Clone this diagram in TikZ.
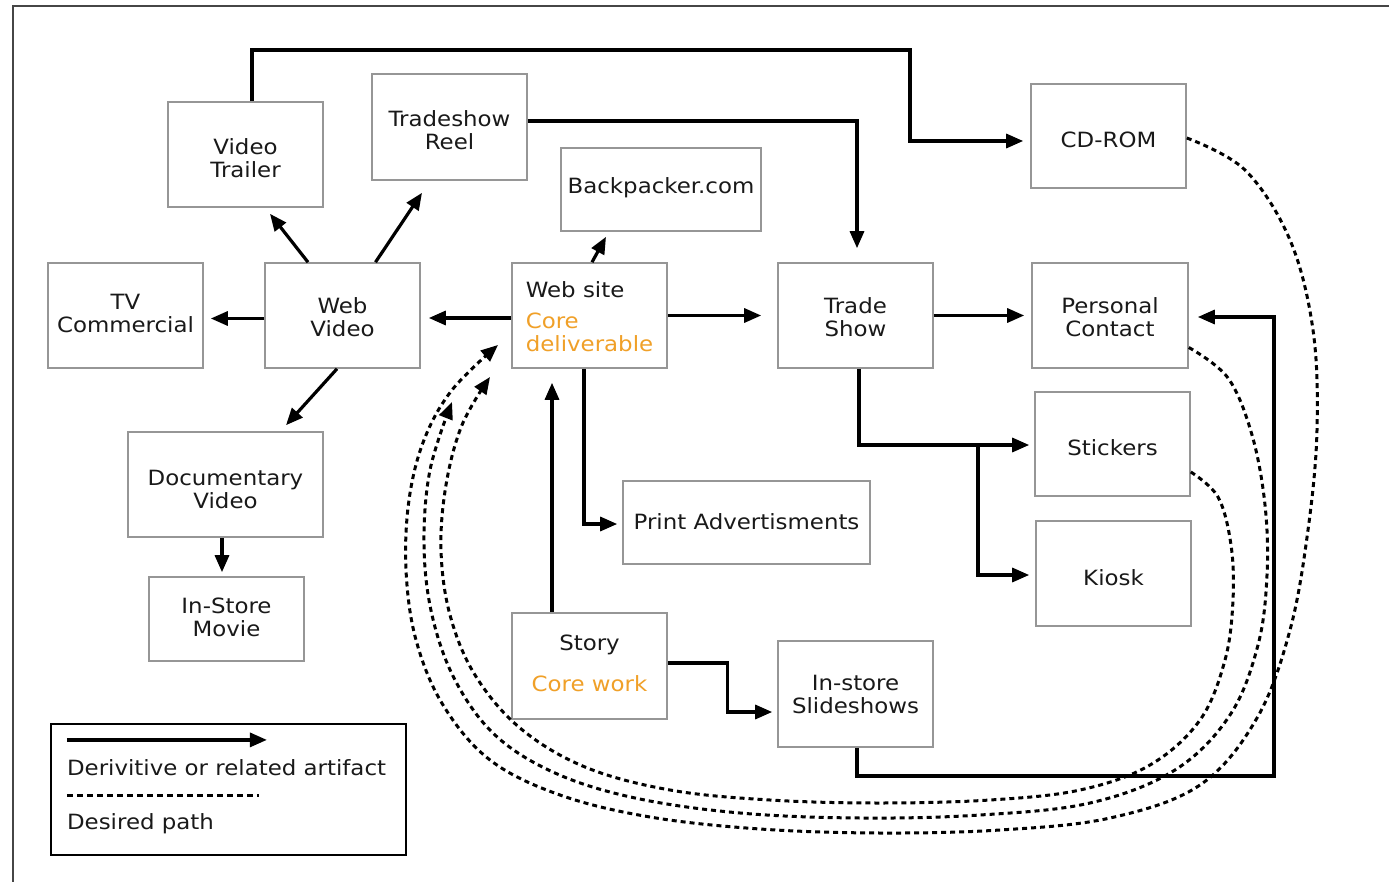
\documentclass[tikz,border=0pt]{standalone}
\usepackage{fontspec}
\setmainfont{DejaVu Sans}[FakeStretch=1.09]
\usetikzlibrary{arrows.meta,calc}
\definecolor{boxgray}{RGB}{150,150,150}
\definecolor{coreorange}{RGB}{240,160,40}
\definecolor{framegray}{RGB}{70,70,70}
\begin{document}
\begin{tikzpicture}[x=1pt,y=-1pt,
  box/.style={draw=boxgray, line width=1.6pt, fill=white, inner sep=0pt},
  txt/.style={inner sep=0pt, align=center, font=\fontsize{21}{23}\selectfont, text=black!90},
  conn/.style={line width=3.2pt, -{Triangle[length=17pt,width=14pt]}},
  dsh/.style={line width=3pt, dash pattern=on 5pt off 4pt, -{Triangle[length=17pt,width=14pt]}},
  lgtext/.style={anchor=west, inner sep=0pt, font=\fontsize{21}{23}\selectfont, text=black!90},
]
\useasboundingbox (0,0) rectangle (1389,882);
\draw[framegray, line width=2pt] (13,882) -- (13,6) -- (1389,6);

% boxes
\node[box, minimum width=155pt, minimum height=105pt] (vt) at (245.5,154.5) {};
\node[txt] (vt-t) at ([yshift=-3.5pt]vt.center) {Video\\Trailer};
\node[box, minimum width=155pt, minimum height=106pt] (tr) at (449.5,127) {};
\node[txt] (tr-t) at ([yshift=-3.5pt]tr.center) {Tradeshow\\Reel};
\node[box, minimum width=200pt, minimum height=83pt] (bp) at (661,189.5) {};
\node[txt] (bp-t) at ([yshift=2pt]bp.center) {Backpacker.com};
\node[box, minimum width=155pt, minimum height=104pt] (cd) at (1108.5,136) {};
\node[txt] (cd-t) at ([yshift=-3.5pt]cd.center) {CD-ROM};
\node[box, minimum width=155pt, minimum height=105pt] (tv) at (125.5,315.5) {};
\node[txt] (tv-t) at ([yshift=2pt]tv.center) {TV\\Commercial};
\node[box, minimum width=155pt, minimum height=105pt] (wv) at (342.5,315.5) {};
\node[txt] (wv-t) at ([yshift=-2pt]wv.center) {Web\\Video};
\node[box, minimum width=155pt, minimum height=105pt] (ws) at (589.5,315.5) {};
\node[txt, align=left] (ws-t) at ([yshift=-1pt]ws.center)
  {Web site\\[8pt]\color{coreorange}Core\\\color{coreorange}deliverable};
\node[box, minimum width=155pt, minimum height=105pt] (ts) at (855.5,315.5) {};
\node[txt] (ts-t) at ([yshift=-2pt]ts.center) {Trade\\Show};
\node[box, minimum width=156pt, minimum height=105pt] (pc) at (1110,315.5) {};
\node[txt] (pc-t) at ([yshift=-2pt]pc.center) {Personal\\Contact};
\node[box, minimum width=155pt, minimum height=104pt] (st) at (1112.5,444) {};
\node[txt] (st-t) at ([yshift=-3.5pt]st.center) {Stickers};
\node[box, minimum width=155pt, minimum height=105pt] (ki) at (1113.5,573.5) {};
\node[txt] (ki-t) at ([yshift=-4pt]ki.center) {Kiosk};
\node[box, minimum width=195pt, minimum height=105pt] (dv) at (225.5,484.5) {};
\node[txt] (dv-t) at ([yshift=-4.5pt]dv.center) {Documentary\\Video};
\node[box, minimum width=155pt, minimum height=84pt] (im) at (226.5,619) {};
\node[txt] (im-t) at ([yshift=2pt]im.center) {In-Store\\Movie};
\node[box, minimum width=247pt, minimum height=83pt] (pa) at (746.5,522.5) {};
\node[txt] (pa-t) at ([yshift=1pt]pa.center) {Print Advertisments};
\node[box, minimum width=155pt, minimum height=106pt] (sy) at (589.5,666) {};
\node[txt] (sy-t) at ([yshift=3pt]sy.center) {Story\\[18pt]\color{coreorange}Core work};
\node[box, minimum width=155pt, minimum height=106pt] (ss) at (855.5,694) {};
\node[txt] (ss-t) at (ss.center) {In-store\\Slideshows};

% solid connectors
\draw[conn] ([xshift=6.5pt]vt.north) |- (910,50) |- ([xshift=-7pt,yshift=-5pt]cd.west);
\draw[conn] ([yshift=6pt]tr.east) -| ([xshift=1.5pt,yshift=14pt]ts.north);
\draw[conn] ([xshift=-34.5pt]wv.north) -- ($(vt.south)+(24.5,6)$);
\draw[conn] ([xshift=33pt]wv.north) -- ($(tr.south)+(-27.5,12)$);
\draw[conn] ([yshift=-3pt]wv.west) -- ([xshift=7pt,yshift=-3pt]tv.east);
\draw[conn] ([xshift=-5.5pt]wv.south) -- ($(dv.north)+(60.5,-6)$);
\draw[conn] ([yshift=-2.5pt]ws.west) -- ([xshift=8pt,yshift=-2.5pt]wv.east);
\draw[conn] ([xshift=2.5pt]ws.north) -- ($(bp.south)+(-55,5)$);
\draw[conn] (ws.east) -- ([xshift=-16pt]ts.west);
\draw[conn] ([xshift=-5.5pt]ws.south) |- ([xshift=-5pt,yshift=-1.5pt]pa.west);
\draw[conn] ([xshift=-37.5pt]sy.north) -- ([xshift=-37.5pt,yshift=-14pt]ws.south);
\draw[conn] ([yshift=3pt]sy.east) -- ++(60,0) |- ([xshift=-5pt,yshift=-18pt]ss.west);
\draw[conn] (ts.east) -- ([xshift=-7pt]pc.west);
\draw[conn] ([xshift=3.5pt]ts.south) |- ([xshift=-5pt,yshift=-1pt]st.west);
\coordinate (br) at (978,445);
\draw[conn] (br) |- ([xshift=-6pt,yshift=-1.5pt]ki.west);
\draw[conn] ([xshift=-3.5pt]dv.south) -- ([xshift=-4.5pt,yshift=4pt]im.north);
\draw[conn] ([xshift=1.5pt]ss.south) |- (1274,776) |- ([xshift=9pt,yshift=-1.5pt]pc.east);

% dashed desired paths
\coordinate (a0) at ([yshift=-2pt]cd.east);
\coordinate (a1) at (498,345);
\draw[dsh] plot[smooth, tension=0.6] coordinates {(a0) (1245,170) (1290,240) (1313,330) (1317,430)
  (1308,530) (1290,630) (1257,718) (1200,785) (1110,818) (1000,830) (880,833) (760,829) (650,817)
  (560,795) (490,760) (443,705) (416,640) (406,570) (409,500) (424,440) (452,390) (a1)};
\coordinate (b0) at ([yshift=-32pt]pc.east);
\coordinate (b1) at (452,402);
\draw[dsh] plot[smooth, tension=0.6] coordinates {(b0) (1228,378) (1252,435) (1265,505) (1267,575)
  (1258,645) (1230,715) (1175,770) (1090,803) (980,815) (860,818) (740,813) (635,798) (555,773)
  (495,735) (455,680) (432,615) (424,545) (430,470) (b1)};
\coordinate (c0) at ([yshift=-28pt]st.east);
\coordinate (c1) at (490,377);
\draw[dsh] plot[smooth, tension=0.6] coordinates {(c0) (1218,497) (1231,545) (1233,600) (1225,660)
  (1200,720) (1150,765) (1080,790) (990,800) (880,803) (770,800) (670,790) (585,767) (520,728)
  (475,675) (450,615) (441,550) (446,485) (462,425) (c1)};

% legend
\node[draw=black, line width=2.2pt, fill=none, minimum width=355pt, minimum height=131pt, inner sep=0pt] (lg) at (228.5,789.5) {};
\draw[conn] ([xshift=17pt,yshift=-17pt]lg.north west) -- ++(200,0);
\node[lgtext] (l1) at ([xshift=17pt,yshift=-45pt]lg.north west) {Derivitive or related artifact};
\draw[line width=3pt, dash pattern=on 6pt off 4pt] ([xshift=17pt,yshift=-73pt]lg.north west) -- ++(192,0);
\node[lgtext] (l2) at ([xshift=17pt,yshift=-101pt]lg.north west) {Desired path};
\end{tikzpicture}
\end{document}
